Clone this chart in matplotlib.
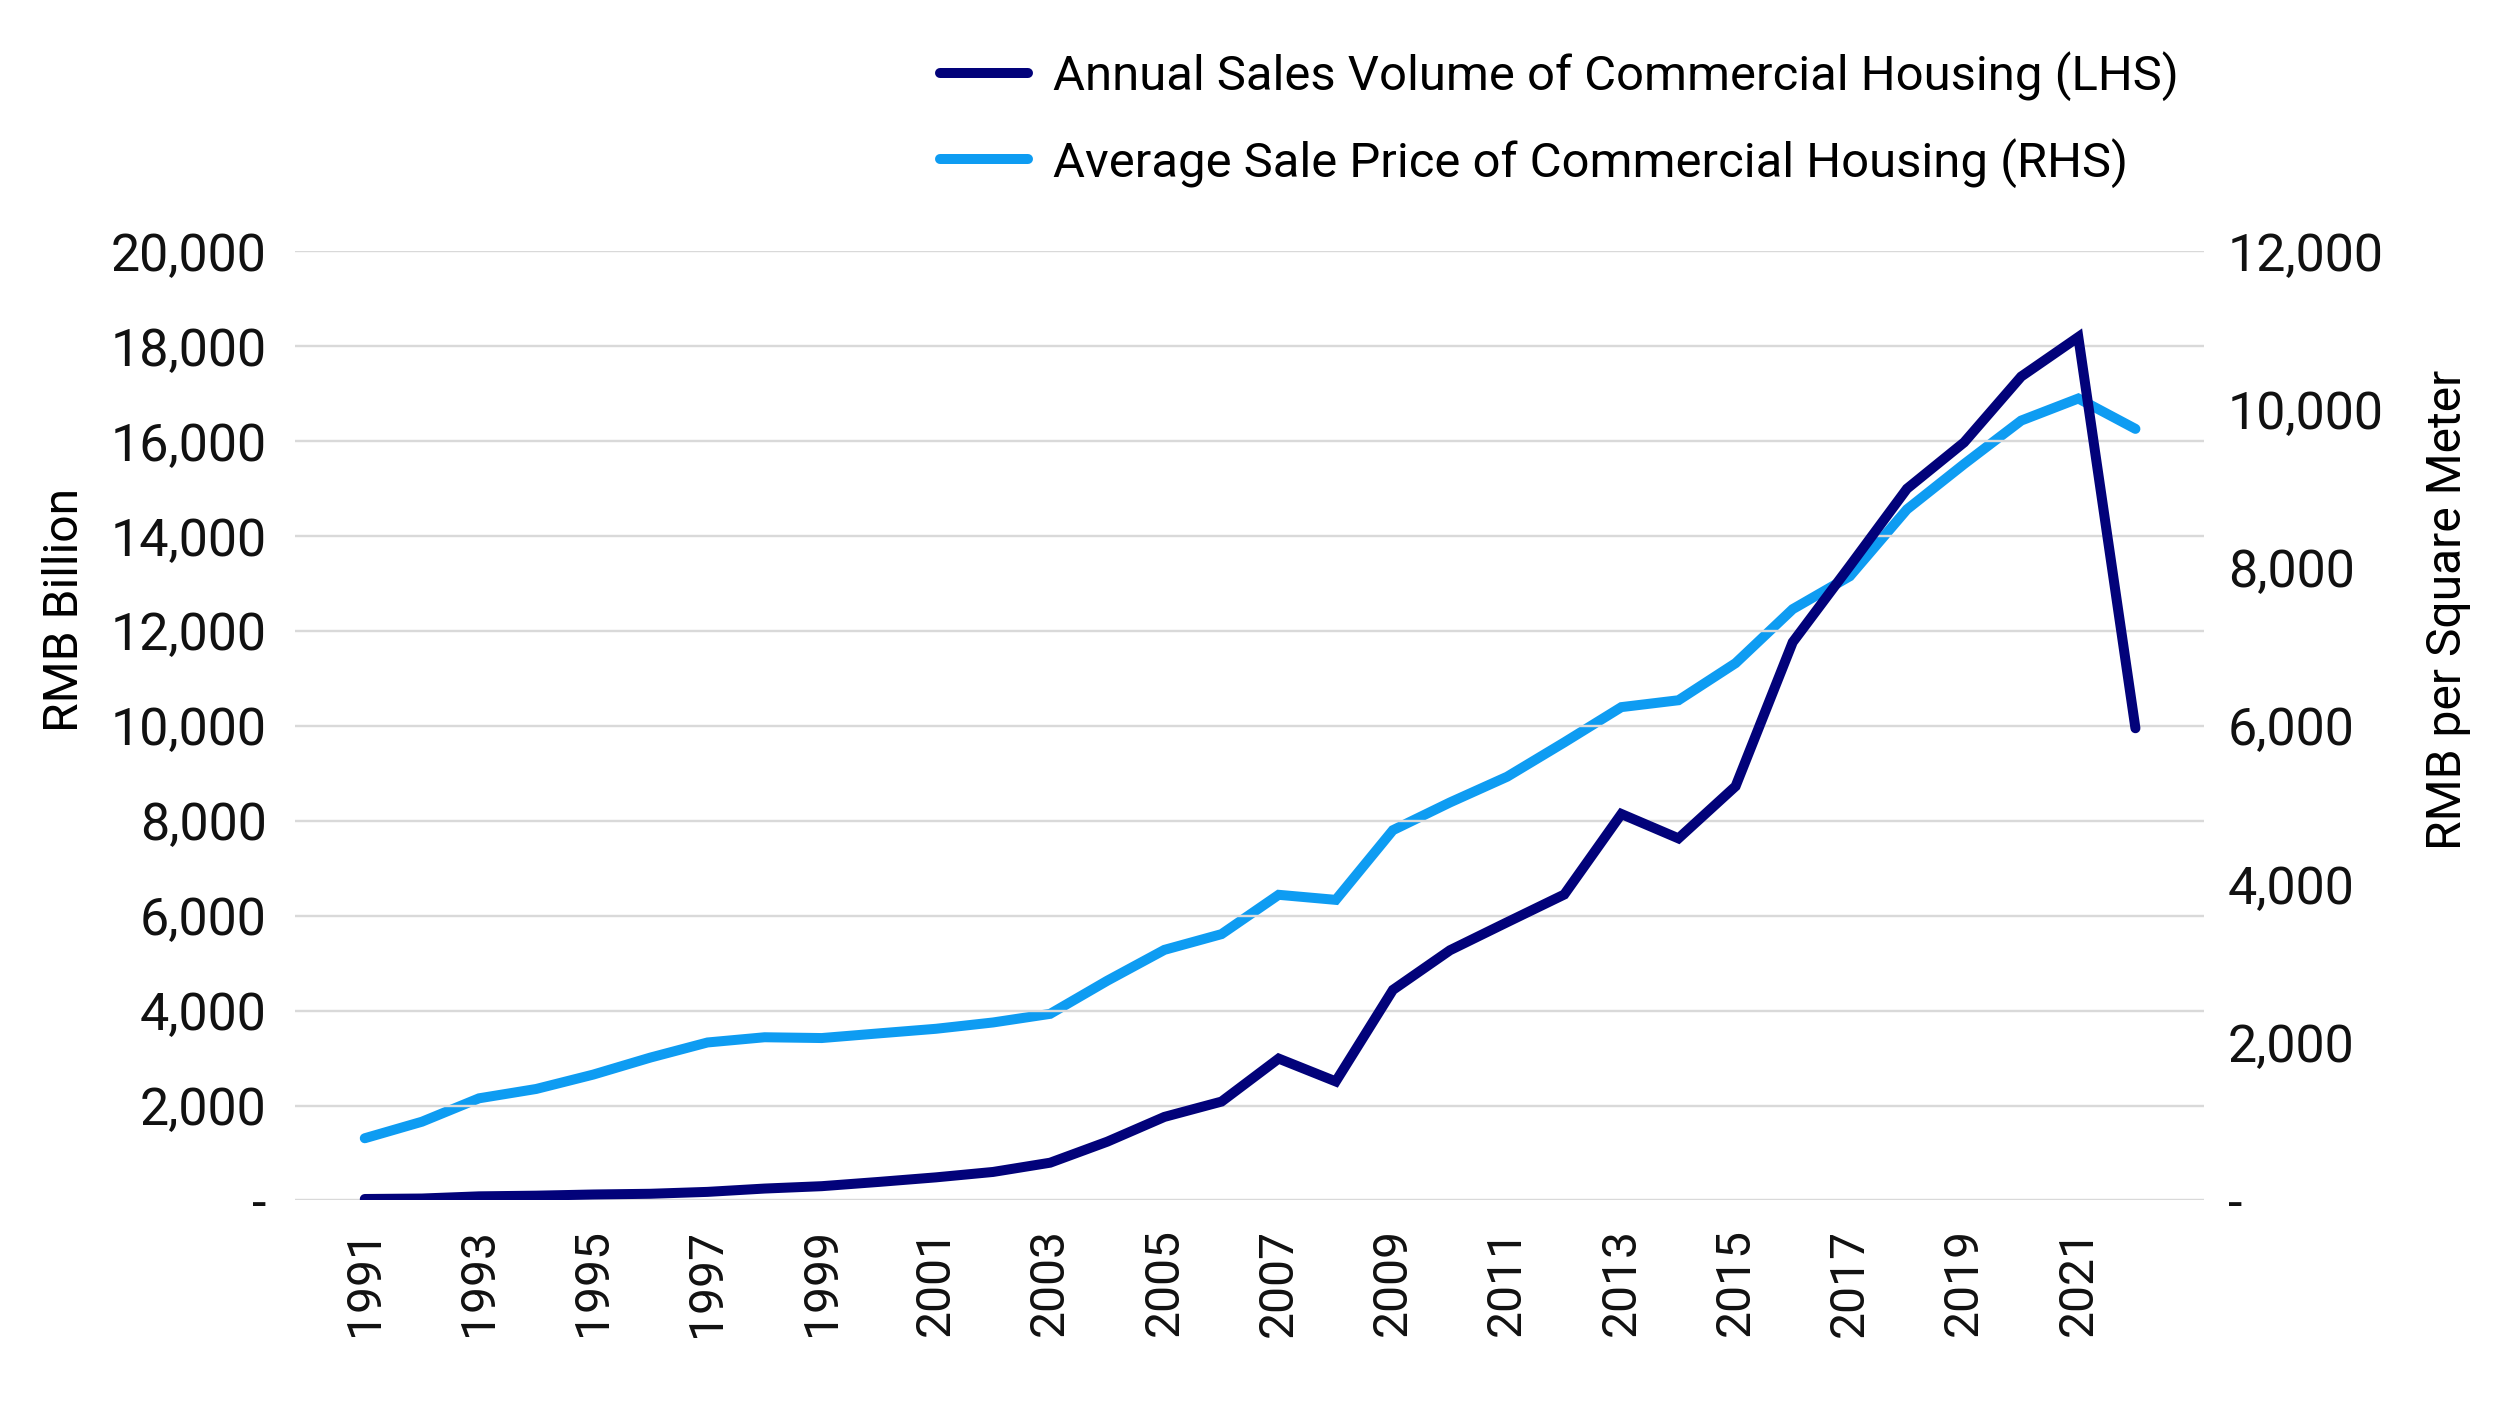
import numpy as np
import matplotlib
matplotlib.use('Agg')
import matplotlib.pyplot as plt
from matplotlib.ticker import FuncFormatter, MultipleLocator

plt.rcParams['font.family'] = ['Roboto', 'DejaVu Sans']

years = list(range(1991, 2023))
# RMB billion
sales_volume = [30, 40, 86, 100, 125, 140, 180, 250, 300, 390, 486, 600, 795,
                1238, 1760, 2083, 2989, 2507, 4436, 5272, 5862, 6446, 8143,
                7629, 8728, 11763, 13370, 14997, 15973, 17361, 18193, 9950]
# RMB per square meter
avg_price = [786, 995, 1291, 1409, 1591, 1806, 1997, 2063, 2053, 2112, 2170,
             2250, 2359, 2778, 3168, 3367, 3864, 3800, 4681, 5032, 5357, 5791,
             6237, 6324, 6793, 7476, 7892, 8737, 9310, 9860, 10139, 9755]
xtick_years = list(range(1991, 2022, 2))

dark = '#02027A'
light = '#0E9CF2'


def fmt(v, pos):
    if abs(v) < 1e-6:
        return '-'
    return '{:,.0f}'.format(v)


fig = plt.figure(figsize=(2496 / 144, 1404 / 144), dpi=144)
ax = fig.add_axes([0.118, 0.145, 0.765, 0.676])
ax2 = ax.twinx()

l1, = ax.plot(years, sales_volume, color=dark, lw=5, solid_capstyle='round',
              solid_joinstyle='miter', zorder=3,
              label='Annual Sales Volume of Commercial Housing (LHS)')
l2, = ax2.plot(years, avg_price, color=light, lw=5, solid_capstyle='round',
               solid_joinstyle='miter', zorder=2,
               label='Average Sale Price of Commercial Housing (RHS)')

ax.set_zorder(2)
ax.patch.set_visible(False)

ax.set_xlim(1989.77, 2023.2)
ax.set_ylim(0, 20000)
ax2.set_ylim(0, 12000)
ax.yaxis.set_major_locator(MultipleLocator(2000))
ax2.yaxis.set_major_locator(MultipleLocator(2000))
ax.yaxis.set_major_formatter(FuncFormatter(fmt))
ax2.yaxis.set_major_formatter(FuncFormatter(fmt))
ax.set_xticks(xtick_years)
ax.set_xticklabels([str(y) for y in xtick_years], rotation=90)

ax.grid(axis='y', color='#D9D9D9', lw=1.2)
ax.set_axisbelow(True)
for a in (ax, ax2):
    for s in a.spines.values():
        s.set_visible(False)
    a.tick_params(length=0, labelsize=26, colors='#111111')
ax.tick_params(axis='y', pad=14)
ax2.tick_params(axis='y', pad=12)
ax.tick_params(axis='x', labelsize=24, pad=14)

ax.set_ylabel('RMB Billion', fontsize=24)
ax2.set_ylabel('RMB per Square Meter', fontsize=24)
ax.yaxis.set_label_coords(-0.108, 0.622)
ax2.yaxis.set_label_coords(1.116, 0.622)

fig.legend(handles=[l1, l2], loc='upper left', bbox_to_anchor=(0.359, 0.995),
           frameon=False, fontsize=24.5, handlelength=1.8, handletextpad=0.5,
           labelspacing=0.75)

fig.savefig('out.png', dpi=144)
